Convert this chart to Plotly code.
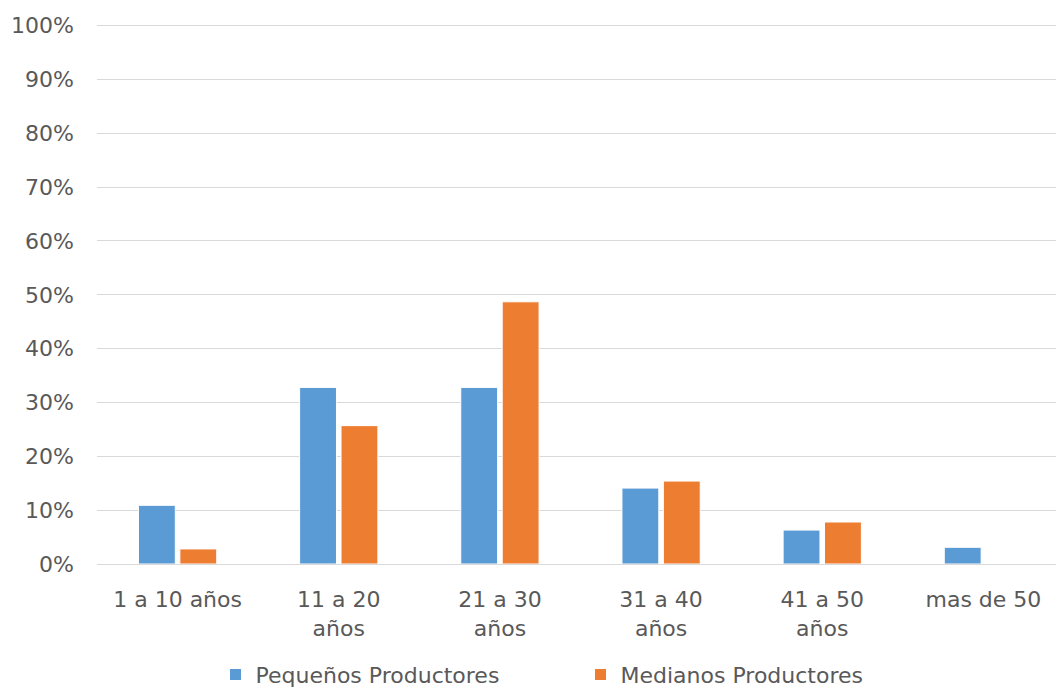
import plotly.graph_objects as go

categories = ["1 a 10 años", "11 a 20<br>años", "21 a 30<br>años", "31 a 40<br>años", "41 a 50<br>años", "mas de 50"]
pequenos = [0.109, 0.328, 0.328, 0.141, 0.063, 0.031]
medianos = [0.028, 0.257, 0.487, 0.154, 0.078, 0.0]
tick_vals = [i / 10 for i in range(11)]
tick_text = [f"{i*10}%" for i in range(11)]

fig = go.Figure()
fig.add_bar(x=categories, y=pequenos, name="Pequeños Productores",
            marker=dict(color="#5B9BD5", line=dict(color="white", width=1)))
fig.add_bar(x=categories, y=medianos, name="Medianos Productores",
            marker=dict(color="#ED7D31", line=dict(color="white", width=1)))

font_fam = "Century Gothic, DejaVu Sans, sans-serif"
fig.update_layout(
    width=1056, height=681,
    margin=dict(l=89, r=0, t=16, b=125, autoexpand=False),
    paper_bgcolor="white", plot_bgcolor="white",
    barmode="group", bargap=0.486, bargroupgap=0.11,
    font=dict(family=font_fam, size=22, color="#595959"),
    showlegend=True,
    legend=dict(orientation="h", x=0.5, xanchor="center", y=-0.205, yanchor="middle",
                font=dict(size=22, color="#595959"), itemwidth=30,
                entrywidth=320, entrywidthmode="pixels"),
    xaxis=dict(showgrid=False, showline=True, linecolor="#D9D9D9", linewidth=1,
               tickfont=dict(size=22, color="#595959"), ticks="", ticklabelstandoff=16),
    yaxis=dict(range=[0, 1.003], tickvals=tick_vals, ticktext=tick_text,
               showgrid=True, gridcolor="#D9D9D9", gridwidth=1, zeroline=False,
               tickfont=dict(size=22, color="#595959"), ticks="", ticklabelstandoff=22),
)
fig.write_html("out.html")
